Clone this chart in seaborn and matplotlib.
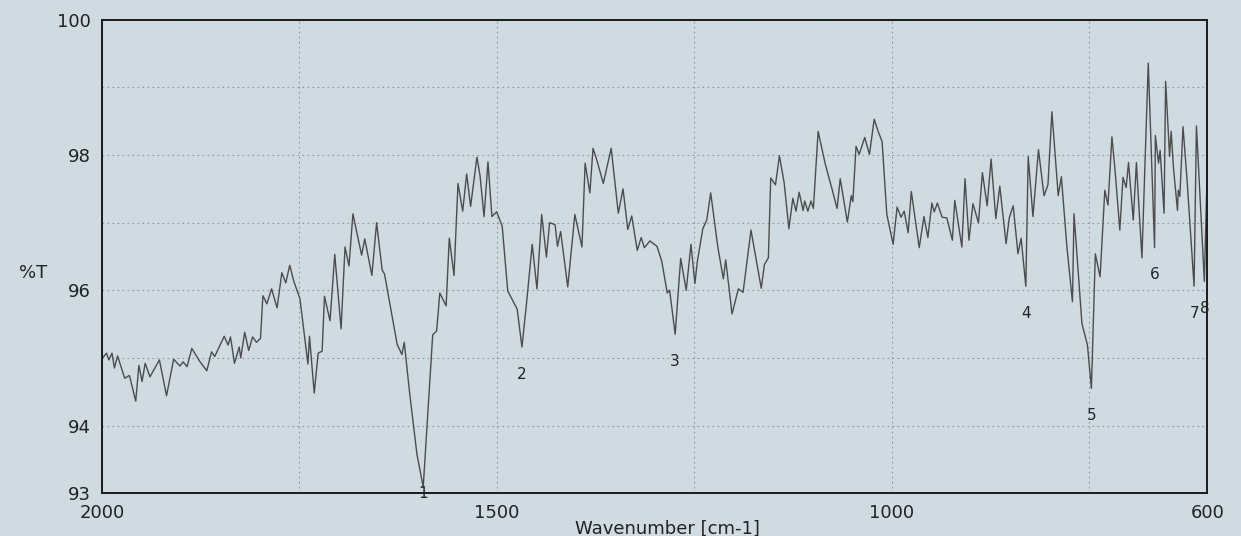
"""
Scanned IR transmittance spectrum (2000-600 cm-1) with numbered bands.
"""
import matplotlib
matplotlib.use('Agg')
import matplotlib.pyplot as plt
import pandas as pd
import seaborn as sns

# Spectrum: wavenumber [cm-1] and transmittance [%T]
wavenumber = [
    2000, 1999, 1994, 1991, 1987, 1984, 1980, 1971, 1965, 1957, 1953, 1949, 1945, 1939,
    1927, 1918, 1909, 1901, 1897, 1892, 1886, 1876, 1867, 1861, 1857, 1845, 1840, 1837,
    1832, 1826, 1824, 1819, 1814, 1809, 1804, 1799, 1796, 1791, 1785, 1778, 1772, 1767,
    1762, 1757, 1749, 1739, 1737, 1731, 1726, 1721, 1718, 1711, 1705, 1697, 1692, 1687,
    1682, 1671, 1667, 1658, 1652, 1645, 1642, 1633, 1626, 1620, 1617, 1610, 1601, 1593,
    1586, 1581, 1576, 1572, 1564, 1560, 1554, 1549, 1543, 1538, 1533, 1525, 1521, 1516,
    1511, 1506, 1500, 1493, 1486, 1474, 1468, 1462, 1455, 1449, 1443, 1437, 1433, 1426,
    1423, 1419, 1410, 1401, 1392, 1388, 1382, 1378, 1373, 1365, 1355, 1346, 1340, 1334,
    1329, 1322, 1317, 1313, 1306, 1297, 1291, 1284, 1281, 1274, 1267, 1260, 1254, 1249,
    1246, 1239, 1234, 1229, 1220, 1213, 1210, 1202, 1194, 1188, 1178, 1165, 1161, 1156,
    1153, 1147, 1142, 1136, 1130, 1125, 1121, 1117, 1112, 1110, 1106, 1102, 1099, 1093,
    1084, 1075, 1069, 1065, 1056, 1051, 1049, 1045, 1041, 1034, 1028, 1022, 1017, 1012,
    1006, 998, 993, 988, 984, 979, 975, 965, 959, 954, 949, 946, 942, 936,
    930, 923, 920, 911, 907, 902, 897, 890, 885, 879, 874, 868, 863, 855,
    851, 846, 840, 836, 830, 827, 821, 814, 807, 802, 797, 789, 785, 778,
    771, 769, 759, 752, 747, 742, 736, 730, 726, 721, 717, 711, 707, 703,
    700, 694, 690, 688, 683, 675, 667, 666, 662, 660, 655, 653, 648, 646,
    643, 638, 637, 635, 631, 626, 617, 614, 604, 600,
]
transmittance = [
    95.07, 95.00, 95.07, 94.97, 95.07, 94.85, 95.03, 94.70, 94.74, 94.36, 94.89, 94.65, 94.92, 94.72,
    94.97, 94.44, 94.98, 94.88, 94.94, 94.87, 95.14, 94.95, 94.81, 95.09, 95.02, 95.32, 95.19, 95.31,
    94.92, 95.16, 95.00, 95.38, 95.11, 95.31, 95.23, 95.29, 95.92, 95.80, 96.02, 95.74, 96.26, 96.11,
    96.37, 96.14, 95.87, 94.91, 95.32, 94.48, 95.07, 95.10, 95.91, 95.55, 96.53, 95.43, 96.64, 96.36,
    97.13, 96.52, 96.76, 96.22, 97.00, 96.30, 96.24, 95.65, 95.20, 95.05, 95.23, 94.46, 93.58, 93.09,
    94.41, 95.34, 95.40, 95.96, 95.77, 96.77, 96.22, 97.58, 97.17, 97.72, 97.24, 97.97, 97.69, 97.09,
    97.90, 97.09, 97.16, 96.95, 95.99, 95.72, 95.16, 95.83, 96.68, 96.02, 97.12, 96.49, 97.00, 96.97,
    96.65, 96.87, 96.05, 97.12, 96.64, 97.88, 97.44, 98.10, 97.92, 97.58, 98.10, 97.14, 97.50, 96.90,
    97.10, 96.59, 96.78, 96.63, 96.73, 96.65, 96.43, 95.96, 96.00, 95.35, 96.47, 96.00, 96.68, 96.10,
    96.42, 96.91, 97.04, 97.44, 96.64, 96.17, 96.45, 95.65, 96.02, 95.97, 96.89, 96.03, 96.38, 96.48,
    97.66, 97.56, 97.99, 97.59, 96.91, 97.36, 97.17, 97.45, 97.18, 97.32, 97.17, 97.32, 97.21, 98.35,
    97.87, 97.48, 97.21, 97.65, 97.01, 97.40, 97.31, 98.13, 98.01, 98.26, 98.01, 98.53, 98.35, 98.20,
    97.12, 96.68, 97.23, 97.08, 97.17, 96.85, 97.46, 96.63, 97.09, 96.78, 97.29, 97.16, 97.29, 97.08,
    97.07, 96.74, 97.33, 96.64, 97.65, 96.74, 97.28, 97.00, 97.74, 97.25, 97.94, 97.06, 97.54, 96.69,
    97.07, 97.25, 96.54, 96.77, 96.06, 97.98, 97.09, 98.08, 97.40, 97.56, 98.64, 97.40, 97.68, 96.64,
    95.83, 97.13, 95.51, 95.19, 94.55, 96.54, 96.20, 97.48, 97.26, 98.27, 97.77, 96.89, 97.67, 97.52,
    97.89, 97.04, 97.89, 97.47, 96.48, 99.36, 96.63, 98.29, 97.88, 98.07, 97.14, 99.09, 97.98, 98.35,
    97.80, 97.18, 97.48, 97.39, 98.42, 97.65, 96.06, 98.43, 96.13, 97.95,
]

# Numbered bands marked on the scan
band_labels = ['1', '2', '3', '4', '5', '6', '7', '8']
band_wavenumber = [1593, 1468, 1274, 830, 747, 667, 617, 604]
band_transmittance = [93.09, 95.16, 95.35, 96.06, 94.55, 96.63, 96.06, 96.13]

# Axis ticks
x_ticks = [2000, 1750, 1500, 1250, 1000, 750, 600]
x_tick_labels = ['2000', '', '1500', '', '1000', '', '600']
y_ticks = [93, 94, 95, 96, 97, 98, 99, 100]
y_tick_labels = ['93', '94', '', '96', '', '98', '', '100']

PAPER = '#cfdbe0'
INK = '#4c4c4c'
TEXT = '#222222'

sns.set_style('white')
plt.rcParams['font.family'] = ['DejaVu Sans']

df = pd.DataFrame({'Wavenumber': wavenumber, 'T': transmittance})

fig = plt.figure(figsize=(12.41, 5.36), dpi=100, facecolor=PAPER)
ax = fig.add_axes([0.082, 0.080, 0.891, 0.883])
ax.set_facecolor(PAPER)

sns.lineplot(data=df, x='Wavenumber', y='T', sort=False, estimator=None,
             color=INK, linewidth=1.0, ax=ax)

# Band numbers sit just under each minimum (band 1 sits on the axis)
for lab, wn, t in zip(band_labels, band_wavenumber, band_transmittance):
    ax.text(wn, max(t - 0.40, 93.0), lab, ha='center', va='center',
            fontsize=11, color=TEXT)

ax.set_xlim(2000, 600)
ax.set_ylim(93, 100)
ax.set_xticks(x_ticks)
ax.set_xticklabels(x_tick_labels)
ax.set_yticks(y_ticks)
ax.set_yticklabels(y_tick_labels)
ax.tick_params(axis='both', direction='in', length=9, width=1.2, colors='black',
               labelsize=13, labelcolor=TEXT)
ax.tick_params(axis='x', pad=8)
ax.tick_params(axis='y', pad=8)
ax.grid(True, linestyle=(0, (1.5, 3)), linewidth=0.8, color='#8c989e')
ax.set_xlabel('')
ax.set_ylabel('')

for spine in ax.spines.values():
    spine.set_visible(True)
    spine.set_color('#1a1a1a')
    spine.set_linewidth(1.4)

fig.text(0.027, 0.491, '%T', ha='center', va='center', fontsize=13, color=TEXT)
fig.text(0.538, 0.014, 'Wavenumber [cm-1]', ha='center', va='center',
         fontsize=13, color=TEXT)

fig.savefig('out.png', dpi=100, facecolor=PAPER)
